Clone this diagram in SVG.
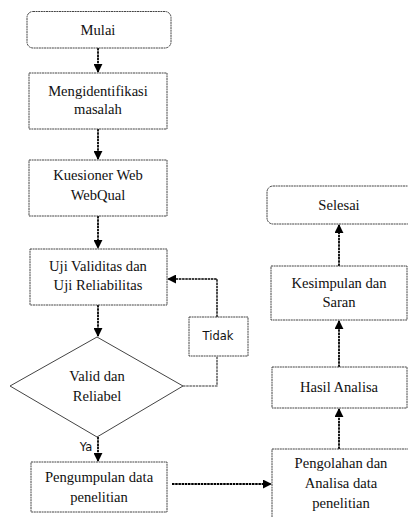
<svg xmlns="http://www.w3.org/2000/svg" width="408" height="517" viewBox="0 0 408 517">
<defs>
<marker id="ah" viewBox="0 0 10 10" refX="9" refY="5" markerWidth="9" markerHeight="9" markerUnits="userSpaceOnUse" orient="auto">
<path d="M0,0 L10,5 L0,10 z" fill="#000"/>
</marker>
<style>
.box{fill:#fff;stroke:#444;stroke-width:1;stroke-dasharray:2 0.6}
.t{font-family:"Liberation Serif","Times New Roman",serif;font-size:14.6px;fill:#111;text-anchor:middle}
.s{font-family:"DejaVu Sans",Verdana,sans-serif;font-size:11.5px;fill:#111;text-anchor:middle}
.c{fill:none;stroke:#000;stroke-width:1.8;stroke-dasharray:2.5 0.7}
</style>
</defs>
<rect width="408" height="517" fill="#fff"/>
<g id="connectors">
<line class="c" x1="98" y1="48" x2="98" y2="72" marker-end="url(#ah)"/>
<line class="c" x1="98" y1="129" x2="98" y2="159" marker-end="url(#ah)"/>
<line class="c" x1="98" y1="216" x2="98" y2="248" marker-end="url(#ah)"/>
<line class="c" x1="98" y1="305" x2="98" y2="336" marker-end="url(#ah)"/>
<polyline class="c" points="183,386 217,386 217,356" style="stroke-width:1.2;stroke:#333"/>
<polyline class="c" points="217,317 217,279 168,279" style="stroke-width:1.4" marker-end="url(#ah)"/>
<line class="c" x1="98" y1="437" x2="98" y2="461" marker-end="url(#ah)"/>
<line class="c" x1="172" y1="484" x2="271" y2="484" marker-end="url(#ah)"/>
<line class="c" x1="339" y1="449" x2="339" y2="409" marker-end="url(#ah)"/>
<line class="c" x1="339" y1="367" x2="339" y2="321" marker-end="url(#ah)"/>
<line class="c" x1="339" y1="266" x2="339" y2="225" marker-end="url(#ah)"/>
</g>
<g id="mulai">
<rect class="box" x="27" y="11.5" width="144" height="36.5" rx="6"/>
<text class="t" x="98" y="35">Mulai</text>
</g>
<g id="mengidentifikasi">
<rect class="box" x="29" y="73" width="138" height="56"/>
<text class="t" x="98" y="96">Mengidentifikasi</text>
<text class="t" x="98" y="114">masalah</text>
</g>
<g id="kuesioner">
<rect class="box" x="29" y="160" width="138" height="56"/>
<text class="t" x="98" y="180">Kuesioner Web</text>
<text class="t" x="98" y="200">WebQual</text>
</g>
<g id="uji">
<rect class="box" x="30" y="249" width="137" height="56"/>
<text class="t" x="98" y="271">Uji Validitas dan</text>
<text class="t" x="98" y="290">Uji Reliabilitas</text>
</g>
<g id="tidak">
<rect class="box" x="189" y="317" width="59" height="39"/>
<text class="s" x="218" y="340">Tidak</text>
</g>
<g id="valid">
<polygon points="97,337 183,386 97,437 10,386" fill="#fff" stroke="#444" stroke-width="1"/>
<text class="t" x="97" y="381">Valid dan</text>
<text class="t" x="97" y="401">Reliabel</text>
</g>
<text class="s" x="86" y="451">Ya</text>
<g id="pengumpulan">
<rect class="box" x="31" y="462" width="136" height="50"/>
<text class="t" x="99" y="482">Pengumpulan data</text>
<text class="t" x="99" y="502">penelitian</text>
</g>
<g id="pengolahan">
<rect class="box" x="272" y="449" width="140" height="80"/>
<text class="t" x="341" y="468">Pengolahan dan</text>
<text class="t" x="341" y="488">Analisa data</text>
<text class="t" x="341" y="508">penelitian</text>
</g>
<g id="hasil">
<rect class="box" x="272" y="367" width="135" height="41"/>
<text class="t" x="339" y="392">Hasil Analisa</text>
</g>
<g id="kesimpulan">
<rect class="box" x="271" y="266" width="136" height="54"/>
<text class="t" x="339" y="288">Kesimpulan dan</text>
<text class="t" x="339" y="307">Saran</text>
</g>
<g id="selesai">
<rect class="box" x="267" y="186" width="146" height="38" rx="6"/>
<text class="t" x="339" y="210">Selesai</text>
</g>
</svg>
